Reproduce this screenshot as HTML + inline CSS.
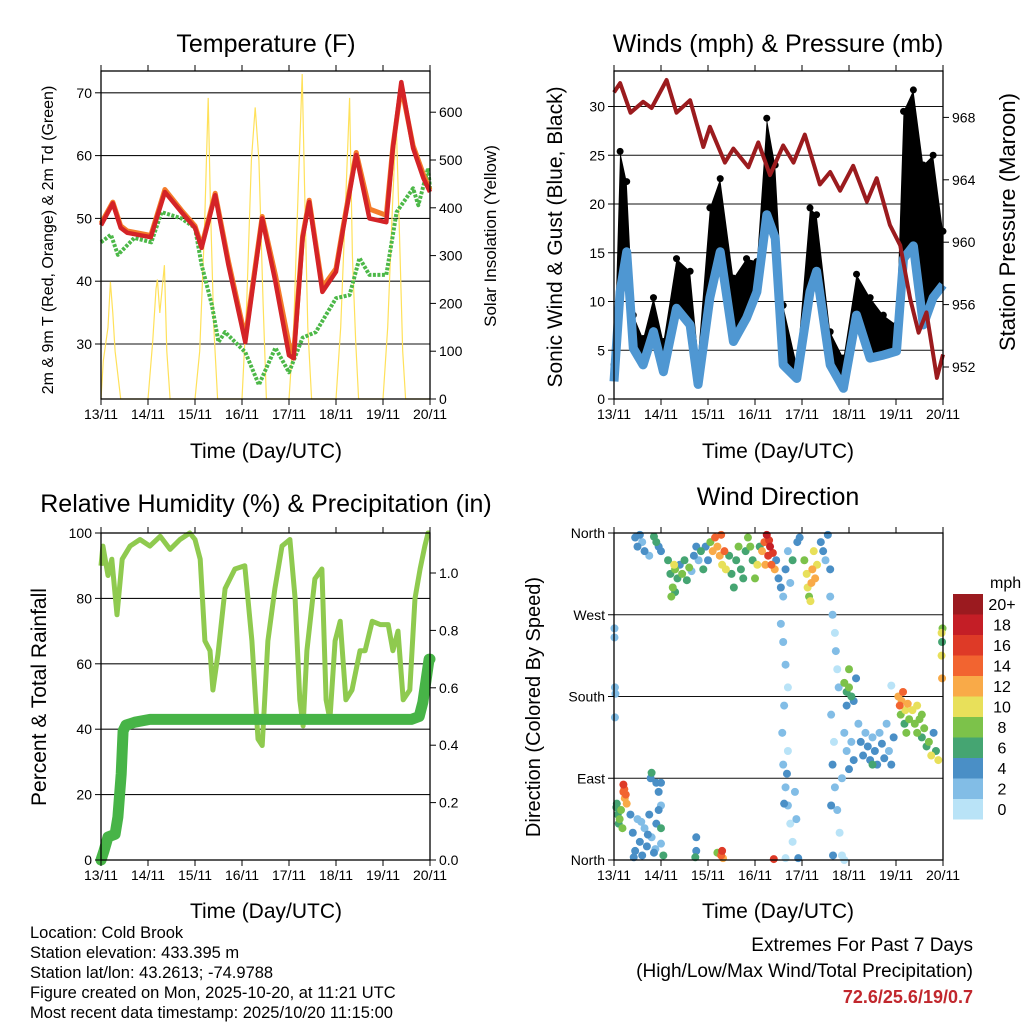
<!DOCTYPE html>
<html><head><meta charset="utf-8"><style>
html,body{margin:0;padding:0;background:#fff;}
svg{display:block;font-family:"Liberation Sans",Arial,sans-serif;}
</style></head><body>
<svg id="chart" width="1024" height="1024" viewBox="0 0 1024 1024" xmlns="http://www.w3.org/2000/svg">
<rect width="1024" height="1024" fill="#fff"/>
<text x="266" y="52" font-size="25" text-anchor="middle">Temperature (F)</text>
<text x="778" y="52" font-size="25" text-anchor="middle">Winds (mph) &amp; Pressure (mb)</text>
<text x="266" y="512" font-size="25" text-anchor="middle">Relative Humidity (%) &amp; Precipitation (in)</text>
<text x="778" y="505" font-size="25" text-anchor="middle">Wind Direction</text>
<text transform="translate(53,240) rotate(-90)" font-size="16" text-anchor="middle">2m &amp; 9m T (Red, Orange) &amp; 2m Td (Green)</text>
<text transform="translate(496,236) rotate(-90)" font-size="17" text-anchor="middle">Solar Insolation (Yellow)</text>
<text transform="translate(562,237) rotate(-90)" font-size="21" text-anchor="middle">Sonic Wind &amp; Gust (Blue, Black)</text>
<text transform="translate(1015,222) rotate(-90)" font-size="22" text-anchor="middle">Station Pressure (Maroon)</text>
<text transform="translate(46,697) rotate(-90)" font-size="21" text-anchor="middle">Percent &amp; Total Rainfall</text>
<text transform="translate(540,707) rotate(-90)" font-size="20" text-anchor="middle">Direction (Colored By Speed)</text>
<text x="266" y="458" font-size="21" text-anchor="middle">Time (Day/UTC)</text>
<text x="778" y="458" font-size="21" text-anchor="middle">Time (Day/UTC)</text>
<text x="266" y="918" font-size="21" text-anchor="middle">Time (Day/UTC)</text>
<text x="778" y="918" font-size="21" text-anchor="middle">Time (Day/UTC)</text>
<g font-size="16.5">
<text x="30" y="938">Location: Cold Brook</text>
<text x="30" y="958">Station elevation: 433.395 m</text>
<text x="30" y="978">Station lat/lon: 43.2613; -74.9788</text>
<text x="30" y="998">Figure created on Mon, 2025-10-20, at 11:21 UTC</text>
<text x="30" y="1018">Most recent data timestamp: 2025/10/20 11:15:00</text>
</g>
<text x="973" y="951" font-size="19" text-anchor="end">Extremes For Past 7 Days</text>
<text x="973" y="977" font-size="19" text-anchor="end">(High/Low/Max Wind/Total Precipitation)</text>
<text x="973" y="1003" font-size="18" font-weight="bold" fill="#c1272d" text-anchor="end">72.6/25.6/19/0.7</text>
<text x="990" y="588" font-size="16">mph</text>
</svg>
<script>
// ---------- data ----------
const dayLabels=["13/11","14/11","15/11","16/11","17/11","18/11","19/11","20/11"];
const tT=[0,0.25,0.42,0.56,1.06,1.36,1.71,2.0,2.14,2.43,2.71,3.07,3.43,3.71,4.0,4.1,4.29,4.43,4.71,5.0,5.14,5.43,5.71,6.07,6.21,6.39,6.64,6.86,7.0];
const tempRed=[48.9,52.4,48.5,47.7,47,54.2,51,48.5,45.3,53.7,42.6,30.3,50,39.9,28.2,27.7,46.9,52.6,38.3,41.5,47.8,60.1,50,49.4,61.2,71.7,61.2,56.4,54.2];
const tempOrange=[49.2,52.6,48.8,48,47.3,54.6,51.3,48.8,45.6,54,43.2,31,50.3,41,30,28.5,47.2,52.9,39,42,48.2,60.5,51.5,50.5,61.5,71,61.6,57,54.5];
const tD=[0,0.21,0.36,0.71,1.07,1.29,1.71,2.0,2.14,2.36,2.5,2.64,3.07,3.36,3.71,4.0,4.29,4.57,5.0,5.29,5.5,5.71,6.07,6.29,6.64,6.75,6.96,7.0];
const dewGreen=[46.2,47.4,44.2,46.9,46.2,51,50,48.5,42.6,36.2,30.3,31.9,28.7,23.5,29.4,25.5,31,31.9,37.3,37.8,43.7,41,41,51,54.8,52.1,58,54.8];
const insolT=[0,0.05,0.15,0.2,0.25,0.3,0.42,1.0,1.1,1.17,1.2,1.25,1.35,1.4,1.47,2.0,2.1,2.2,2.28,2.33,2.4,2.48,3.0,3.1,3.2,3.28,3.36,3.45,3.52,4.0,4.1,4.2,4.28,4.33,4.4,4.48,5.0,5.1,5.2,5.29,5.35,5.42,5.48,6.0,6.1,6.2,6.28,6.35,6.42,6.48,7.0];
const insolV=[0,80,150,245,180,100,0,0,120,230,250,180,280,100,0,0,100,350,630,400,150,0,0,200,500,610,500,200,0,0,150,450,680,450,150,0,0,150,400,630,300,120,0,0,150,400,580,350,100,0,0];
const presT=[0,0.13,0.35,0.62,0.8,1.12,1.33,1.62,1.9,2.04,2.36,2.54,2.86,3.07,3.32,3.6,3.82,4.06,4.38,4.6,4.81,5.09,5.38,5.59,5.87,6.09,6.3,6.48,6.65,6.87,7.0];
const presV=[969.6,970.2,968.3,969,968.6,970.4,968.3,969.1,966.1,967.4,965.1,966,964.8,966.4,964.3,966.2,965.1,966.9,963.7,964.5,963.3,964.9,962.6,964.1,961.1,959.8,956.4,954.2,955.5,951.3,952.8];
const windT=[0,0.13,0.27,0.41,0.62,0.84,1.05,1.33,1.62,1.79,2.04,2.26,2.54,2.82,3.04,3.25,3.43,3.6,3.89,4.17,4.31,4.6,4.88,5.16,5.45,5.73,6.01,6.16,6.37,6.58,6.79,7.0];
const windSpd=[1.8,11,15.1,5.2,3.5,6.9,2.8,9.3,7.6,1.5,10.4,15.1,5.9,8.3,11,18.9,16.5,3.5,2.1,11,13.1,3.5,1.1,8.6,4.2,4.5,4.9,14.4,15.7,7.6,10.4,11.7];
const gustSpd=[3.5,25.4,22.3,8.6,6.2,10.4,5.9,14.4,13.1,4.5,19.6,22.6,12.4,14.4,14.1,28.8,24,9.6,3.5,19.6,18.9,6.9,4.2,12.8,10.4,8.6,7.6,29.5,31.7,24,25,17.2];
const rhT=[0,0.04,0.15,0.23,0.34,0.45,0.62,0.83,1.04,1.26,1.47,1.68,1.89,2.0,2.11,2.21,2.32,2.38,2.49,2.64,2.85,3.06,3.21,3.34,3.43,3.55,3.7,3.85,4.02,4.13,4.23,4.3,4.38,4.55,4.7,4.79,4.87,4.98,5.09,5.21,5.34,5.51,5.62,5.77,5.94,6.11,6.21,6.32,6.43,6.57,6.68,6.79,6.89,6.96,7.0];
const rhV=[90,96,87,92,75,92,96,98,96,99,95,98,100,98,92,67,64,52,63,83,89,90,67,37,35,67,83,96,98,80,49,41,64,86,89,49,43,67,73,49,52,64,64,73,72,72,64,70,49,52,80,89,96,100,100];
const prT=[0,0.06,0.15,0.3,0.36,0.43,0.47,0.53,0.72,1.04,2.0,4.0,6.6,6.77,6.85,6.91,6.98,7.0];
const prV=[0,0.03,0.08,0.09,0.15,0.3,0.45,0.47,0.48,0.49,0.49,0.49,0.49,0.5,0.55,0.62,0.7,0.7];
const speedLabels=["20+","18","16","14","12","10","8","6","4","2","0"];
const speedColors=["#9b1a1f","#c41e26","#de3a27","#f26430","#f9aa48","#e8e05a","#7cc24a","#45a572","#4a8fc6","#82bde6","#b9e3f7"];
const dirLabels=["North","East","South","West","North"];
const wdT=[0.01,0.01,0.02,0.02,0.03,0.2,0.22,0.25,0.23,0.27,0.2,0.05,0.08,0.12,0.15,0.1,0.18,0.06,
0.35,0.4,0.45,0.5,0.55,0.6,0.65,0.7,0.75,0.8,0.85,0.9,0.95,1.0,1.05,1.0,0.42,0.58,0.72,0.88,0.78,0.8,0.9,0.95,1.0,1.0,
0.45,0.5,0.55,0.6,0.65,0.75,0.85,0.9,0.95,1.0,
1.15,1.2,1.25,1.3,1.35,1.4,1.45,1.5,1.55,1.6,1.65,1.7,1.75,1.8,1.3,1.28,1.22,
1.85,1.9,1.95,2.0,2.05,2.1,2.15,2.2,2.25,2.3,2.35,2.28,2.38,2.45,2.5,
2.55,2.6,2.65,2.7,2.75,2.8,2.85,2.9,2.95,3.0,3.05,3.1,
3.15,3.2,3.25,3.28,3.32,3.35,3.38,3.42,3.22,3.3,
3.45,3.5,3.55,3.6,3.65,3.7,3.75,3.8,3.9,3.95,
3.55,3.6,3.65,3.7,3.62,3.58,3.6,3.65,3.7,3.75,3.8,3.7,3.68,3.62,3.92,3.85,3.88,
4.05,4.1,4.12,4.15,4.2,4.22,4.25,4.28,4.32,4.18,
4.4,4.45,4.5,4.55,4.6,
4.6,4.65,4.7,4.72,4.75,4.78,4.62,4.68,4.65,4.7,4.75,4.8,4.85,4.9,4.62,4.66,
4.9,4.95,5.0,5.05,5.1,5.15,4.95,5.0,
4.9,4.95,5.0,5.05,5.1,4.85,
5.2,5.25,5.3,5.35,5.4,5.45,5.5,5.55,5.6,5.65,5.7,5.75,5.8,5.85,5.9,5.95,5.5,5.9,
6.05,6.08,6.12,6.15,6.2,6.25,6.1,6.18,6.22,6.28,
6.35,6.4,6.45,6.5,6.55,6.6,6.65,6.7,6.75,6.8,6.85,6.9,6.45,6.55,
6.97,6.98,6.99,6.97,6.98,
1.75,1.75,1.73,2.28,2.3,2.32,2.2,3.4,3.65];
const wdDir=[255,245,190,157,183,83,78,72,68,62,75,58,50,45,55,40,35,62,
50,30,10,45,20,5,35,15,50,25,8,40,55,18,5,35,3,42,28,12,90,96,85,75,60,85,
355,345,358,350,340,335,356,350,345,340,
330,315,300,320,310,325,315,330,308,322,318,335,345,330,295,325,290,
340,320,345,330,350,340,355,345,335,325,340,358,320,335,315,
300,330,345,320,310,340,355,345,330,310,325,345,
340,350,358,335,345,325,338,320,325,352,
330,310,300,290,320,340,305,330,350,355,
260,240,215,190,170,140,105,80,60,40,20,120,95,62,2,75,45,
330,315,300,290,305,320,340,310,325,285,
350,340,330,358,320,
290,270,250,230,210,190,160,130,105,80,55,30,5,0,60,5,
195,185,190,180,175,200,170,210,
140,120,100,130,110,90,
150,130,115,140,125,110,135,120,105,140,128,112,150,120,105,135,105,192,
180,170,175,185,165,172,160,150,140,155,
165,150,140,155,135,145,125,130,115,140,120,110,170,160,
250,240,255,225,200,
10,25,3,5,10,2,8,1,2];
const wdSpd=[1,1,2,1,2,16,14,14,12,12,14,6,6,8,8,6,8,6,
4,4,4,2,4,4,2,4,4,2,4,4,4,2,6,6,4,2,4,2,4,6,4,4,2,4,
4,4,4,2,4,2,6,6,4,4,
6,6,8,8,6,4,8,6,6,8,2,4,4,2,6,10,8,
6,6,4,4,8,12,14,12,12,10,14,14,10,6,6,
6,6,8,6,6,6,8,8,6,8,10,6,
12,14,18,16,18,14,16,12,12,16,
4,4,4,2,4,2,2,6,4,4,
2,2,2,0,2,2,2,2,2,0,0,0,4,4,4,2,2,
8,10,10,8,12,12,10,12,10,10,
4,4,2,4,4,
2,2,0,2,0,2,2,0,4,2,2,0,0,0,4,4,
8,6,8,6,4,4,4,8,
2,2,4,2,4,2,
2,4,4,2,4,4,2,4,4,2,4,4,2,2,4,4,6,0,
12,14,12,14,10,12,8,6,8,8,
10,8,8,8,6,8,6,8,10,4,6,10,10,8,
10,6,8,10,12,
4,4,6,14,16,12,8,16,0];

// ---------- helpers ----------
const NS='http://www.w3.org/2000/svg';
const svg=document.getElementById('chart');
function mk(parent,tag,attrs){const e=document.createElementNS(NS,tag);for(const k in attrs)e.setAttribute(k,attrs[k]);parent.appendChild(e);return e;}
function pts(xs,ys,fx,fy){return xs.map((t,i)=>fx(t).toFixed(1)+','+fy(ys[i]).toFixed(1)).join(' ');}
function colorFor(s){let i=Math.round(s/2);if(i>10)i=10;return speedColors[10-i];}

const P=[{x0:101,x1:430,y0:71,y1:399},{x0:614,x1:943,y0:71,y1:399},{x0:101,x1:430,y0:533,y1:860},{x0:614,x1:943,y0:533,y1:860}];
const xs=p=>t=>p.x0+t*(p.x1-p.x0)/7;
const x1s=xs(P[0]),x2s=xs(P[1]),x3s=xs(P[2]),x4s=xs(P[3]);
const yT=v=>344-(v-30)*6.28, yS=v=>399-v*0.478;
const yW=v=>399-v*9.75, yP=v=>367-(v-952)*15.6;
const yRH=v=>860-v*3.27, yPr=v=>860-v*287;
const yD=d=>860-d*327/360;

function gridLines(p,ys,name){
  const g=mk(svg,'g',{});
  
  
  ys.forEach(y=>{const l=mk(g,'line',{x1:p.x0,x2:p.x1,y1:y,y2:y,stroke:'#111','stroke-width':1.1});
    
    });
}
function frame(p,name){
  const r=mk(svg,'rect',{x:p.x0,y:p.y0,width:p.x1-p.x0,height:p.y1-p.y0,fill:'none',stroke:'#000','stroke-width':1.3});
  
  
  const xf=xs(p);
  for(let d=0;d<=7;d++){
    const x=xf(d);
    const t1=mk(svg,'line',{x1:x,x2:x,y1:p.y1,y2:p.y1+6,stroke:'#000','stroke-width':1});
    
    
    const t2=mk(svg,'line',{x1:x,x2:x,y1:p.y0,y2:p.y0-6,stroke:'#000','stroke-width':1});
    
    
    const lb=mk(svg,'text',{x:x,y:p.y1+20,'font-size':14,'text-anchor':'middle'});
    lb.textContent=dayLabels[d];
    
    
  }
}
function yTicks(p,vals,fy,side,fmt){
  vals.forEach(v=>{const y=fy(v);
    const x=side==='l'?p.x0:p.x1;
    const t=mk(svg,'line',{x1:x,x2:side==='l'?x-6:x+6,y1:y,y2:y,stroke:'#000','stroke-width':1});
    
    
    const lb=mk(svg,'text',{x:side==='l'?x-9:x+9,y:y+5,'font-size':14,'text-anchor':side==='l'?'end':'start'});
    lb.textContent=fmt(v);
    
    
  });
}

// ---------- panel 1 ----------
gridLines(P[0],[30,40,50,60,70].map(yT),'temperature-gridlines');
let e;
e=mk(svg,'polyline',{points:pts(insolT,insolV,x1s,yS),fill:'none',stroke:'#ffe15a','stroke-width':1.2});


e=mk(svg,'polyline',{points:pts(tD,dewGreen,x1s,yT),fill:'none',stroke:'#4cb848','stroke-width':4,'stroke-dasharray':'3 1.5','stroke-linejoin':'round'});


e=mk(svg,'polyline',{points:pts(tT,tempOrange,x1s,yT),fill:'none',stroke:'#f47c2a','stroke-width':5,'stroke-linejoin':'round'});


e=mk(svg,'polyline',{points:pts(tT,tempRed,x1s,yT),fill:'none',stroke:'#d42327','stroke-width':4.5,'stroke-linejoin':'round'});


frame(P[0],'temperature-plot-frame');
yTicks(P[0],[30,40,50,60,70],yT,'l',v=>v);
yTicks(P[0],[0,100,200,300,400,500,600],yS,'r',v=>v);

// ---------- panel 2 ----------
gridLines(P[1],[5,10,15,20,25,30].map(yW),'wind-gridlines');
const bandPts=pts(windT,gustSpd,x2s,yW)+' '+windT.map((t,i)=>x2s(t).toFixed(1)+','+yW(windSpd[i]).toFixed(1)).reverse().join(' ');
e=mk(svg,'polygon',{points:bandPts,fill:'#000'});


windT.forEach((t,i)=>{const c=mk(svg,'circle',{cx:x2s(t),cy:yW(gustSpd[i]),r:3.5,fill:'#000'});
  
  });
e=mk(svg,'polyline',{points:pts(windT,windSpd,x2s,yW),fill:'none',stroke:'#4f97d2','stroke-width':9,'stroke-linejoin':'round'});


e=mk(svg,'polyline',{points:pts(presT,presV,x2s,yP),fill:'none',stroke:'#9b1b1e','stroke-width':4,'stroke-linejoin':'round'});


frame(P[1],'wind-plot-frame');
yTicks(P[1],[0,5,10,15,20,25,30],yW,'l',v=>v);
yTicks(P[1],[952,956,960,964,968],yP,'r',v=>v);

// ---------- panel 3 ----------
gridLines(P[2],[20,40,60,80].map(yRH),'humidity-gridlines');
e=mk(svg,'polyline',{points:pts(rhT,rhV,x3s,yRH),fill:'none',stroke:'#8fca4f','stroke-width':5,'stroke-linejoin':'round'});


e=mk(svg,'polyline',{points:pts(prT,prV,x3s,yPr),fill:'none',stroke:'#47b447','stroke-width':11,'stroke-linejoin':'round','stroke-linecap':'round'});


frame(P[2],'humidity-plot-frame');
yTicks(P[2],[0,20,40,60,80,100],yRH,'l',v=>v);
yTicks(P[2],[0,0.2,0.4,0.6,0.8,1.0],yPr,'r',v=>v.toFixed(1));

// ---------- panel 4 ----------
gridLines(P[3],[90,180,270].map(yD),'direction-gridlines');
const order=wdT.map((_,i)=>i).sort((a,b)=>wdSpd[a]-wdSpd[b]);
order.forEach(i=>{const c=mk(svg,'circle',{cx:x4s(wdT[i]),cy:yD(wdDir[i]),r:4,fill:colorFor(wdSpd[i])});
  
  });
frame(P[3],'direction-plot-frame');
[0,90,180,270,360].forEach((d,i)=>{const y=yD(d);
  const t=mk(svg,'line',{x1:P[3].x0,x2:P[3].x0-6,y1:y,y2:y,stroke:'#000'});
  
  
  const lb=mk(svg,'text',{x:P[3].x0-9,y:y+5,'font-size':14,'text-anchor':'end'});
  lb.textContent=dirLabels[i];
  
  });
speedLabels.forEach((lab,i)=>{const y=594+i*20.5;
  const r=mk(svg,'rect',{x:953,y:y,width:30,height:20.5,fill:speedColors[i]});
  
  
  const t=mk(svg,'text',{x:1002,y:y+16,'font-size':16,'text-anchor':'middle'});
  t.textContent=lab;
  
  });
</script>
</body></html>
